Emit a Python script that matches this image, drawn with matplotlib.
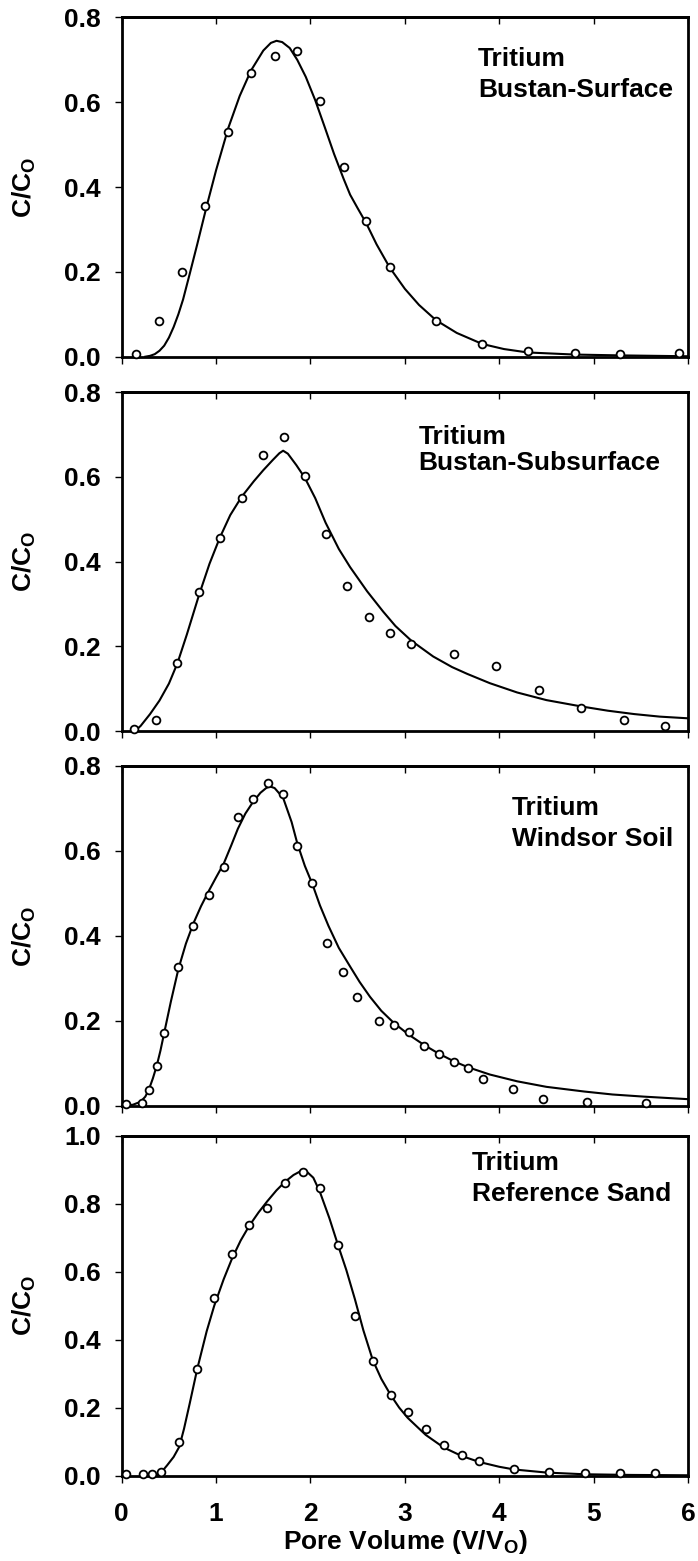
import matplotlib
matplotlib.use('Agg')
import matplotlib.pyplot as plt

plt.rcParams['font.family'] = ['Liberation Sans', 'DejaVu Sans']
plt.rcParams['font.weight'] = 'bold'
plt.rcParams['mathtext.fontset'] = 'custom'
plt.rcParams['mathtext.rm'] = 'Liberation Sans:bold'
plt.rcParams['mathtext.it'] = 'Liberation Sans:bold'
plt.rcParams['mathtext.bf'] = 'Liberation Sans:bold'

# ── Bustan-Surface ──
surf_x = [0.15, 0.40, 0.64, 0.88, 1.13, 1.37, 1.62, 1.86, 2.10, 2.35, 2.59, 2.84, 3.33, 3.82, 4.30, 4.80, 5.28, 5.90]
surf_y = [0.006, 0.085, 0.200, 0.356, 0.531, 0.668, 0.709, 0.720, 0.603, 0.447, 0.320, 0.211, 0.085, 0.030, 0.013, 0.009, 0.006, 0.008]
surf_fit_x = [0.25, 0.30, 0.35, 0.40, 0.45, 0.50, 0.55, 0.60, 0.65, 0.72, 0.80, 0.90, 1.00, 1.13, 1.25, 1.37, 1.50,
              1.58, 1.64, 1.70, 1.78, 1.86, 1.95, 2.05, 2.15, 2.25, 2.35, 2.42, 2.50, 2.59, 2.70, 2.84, 3.00, 3.15,
              3.33, 3.55, 3.82, 4.05, 4.30, 4.80, 5.30, 6.00]
surf_fit_y = [0.000, 0.002, 0.006, 0.014, 0.026, 0.045, 0.070, 0.100, 0.135, 0.195, 0.265, 0.355, 0.440, 0.540, 0.615,
              0.675, 0.722, 0.740, 0.745, 0.742, 0.728, 0.700, 0.660, 0.605, 0.542, 0.478, 0.420, 0.382, 0.350, 0.315,
              0.265, 0.210, 0.160, 0.122, 0.086, 0.056, 0.030, 0.018, 0.010, 0.005, 0.003, 0.001]

# ── Bustan-Subsurface ──
sub_x = [0.13, 0.36, 0.59, 0.82, 1.04, 1.27, 1.50, 1.72, 1.94, 2.16, 2.39, 2.62, 2.84, 3.07, 3.52, 3.97, 4.42, 4.87, 5.32, 5.76]
sub_y = [0.004, 0.026, 0.161, 0.329, 0.457, 0.551, 0.653, 0.695, 0.603, 0.465, 0.343, 0.270, 0.231, 0.205, 0.182, 0.153, 0.098, 0.055, 0.026, 0.012]
sub_fit_x = [0.14, 0.20, 0.30, 0.40, 0.50, 0.59, 0.69, 0.82, 0.93, 1.04, 1.15, 1.27, 1.40, 1.50, 1.60, 1.67, 1.71,
             1.76, 1.85, 1.94, 2.05, 2.16, 2.30, 2.42, 2.60, 2.77, 2.90, 3.07, 3.30, 3.50, 3.66, 3.90, 4.19, 4.50,
             4.87, 5.15, 5.43, 5.70, 6.00]
sub_fit_y = [0.000, 0.012, 0.040, 0.072, 0.112, 0.160, 0.228, 0.322, 0.395, 0.457, 0.510, 0.553, 0.590, 0.616, 0.640,
             0.656, 0.662, 0.655, 0.628, 0.598, 0.550, 0.492, 0.430, 0.387, 0.330, 0.282, 0.248, 0.213, 0.176, 0.151,
             0.135, 0.113, 0.091, 0.073, 0.058, 0.048, 0.040, 0.034, 0.030]

# ── Windsor Soil ──
wind_x = [0.05, 0.21, 0.29, 0.37, 0.45, 0.60, 0.76, 0.92, 1.08, 1.23, 1.39, 1.55, 1.71, 1.86, 2.02, 2.18, 2.34, 2.49,
          2.73, 2.88, 3.04, 3.20, 3.36, 3.52, 3.67, 3.83, 4.15, 4.46, 4.93, 5.56]
wind_y = [0.004, 0.008, 0.037, 0.094, 0.172, 0.327, 0.424, 0.497, 0.562, 0.679, 0.722, 0.759, 0.734, 0.612, 0.525,
          0.384, 0.315, 0.257, 0.201, 0.190, 0.175, 0.140, 0.122, 0.103, 0.089, 0.063, 0.040, 0.017, 0.010, 0.007]
wind_fit_x = [0.03, 0.12, 0.20, 0.25, 0.29, 0.33, 0.37, 0.41, 0.45, 0.52, 0.60, 0.68, 0.76, 0.84, 0.92, 1.00, 1.08,
              1.16, 1.23, 1.31, 1.39, 1.47, 1.53, 1.57, 1.62, 1.71, 1.80, 1.86, 1.94, 2.02, 2.10, 2.19, 2.30, 2.42,
              2.52, 2.63, 2.75, 2.88, 3.04, 3.20, 3.36, 3.52, 3.67, 3.90, 4.19, 4.50, 4.90, 5.20, 5.53, 6.00]
wind_fit_y = [0.000, 0.003, 0.010, 0.022, 0.040, 0.065, 0.094, 0.130, 0.172, 0.245, 0.322, 0.382, 0.430, 0.470, 0.505,
              0.538, 0.570, 0.613, 0.652, 0.688, 0.715, 0.737, 0.748, 0.752, 0.748, 0.725, 0.668, 0.618, 0.565, 0.522,
              0.472, 0.424, 0.372, 0.328, 0.292, 0.257, 0.224, 0.196, 0.168, 0.144, 0.123, 0.105, 0.091, 0.074, 0.058,
              0.045, 0.034, 0.027, 0.022, 0.016]

# ── Reference Sand ──
sand_x = [0.05, 0.23, 0.32, 0.42, 0.61, 0.80, 0.98, 1.17, 1.35, 1.54, 1.73, 1.92, 2.10, 2.29, 2.47, 2.66, 2.85, 3.03,
          3.22, 3.41, 3.60, 3.79, 4.16, 4.53, 4.91, 5.28, 5.65]
sand_y = [0.005, 0.005, 0.005, 0.010, 0.100, 0.314, 0.522, 0.653, 0.738, 0.788, 0.861, 0.894, 0.847, 0.679, 0.471,
          0.338, 0.237, 0.188, 0.137, 0.091, 0.061, 0.042, 0.019, 0.010, 0.009, 0.007, 0.007]
sand_fit_x = [0.37, 0.42, 0.48, 0.55, 0.61, 0.66, 0.72, 0.80, 0.90, 0.98, 1.08, 1.17, 1.26, 1.35, 1.45, 1.54, 1.64,
              1.73, 1.82, 1.90, 1.96, 2.03, 2.10, 2.20, 2.29, 2.38, 2.47, 2.56, 2.66, 2.75, 2.85, 2.94, 3.03, 3.22,
              3.41, 3.60, 3.79, 4.00, 4.16, 4.50, 4.90, 5.40, 6.00]
sand_fit_y = [0.000, 0.010, 0.030, 0.055, 0.085, 0.138, 0.212, 0.314, 0.425, 0.500, 0.578, 0.640, 0.692, 0.735, 0.775,
              0.807, 0.840, 0.865, 0.885, 0.897, 0.895, 0.877, 0.835, 0.758, 0.680, 0.605, 0.520, 0.428, 0.340, 0.285,
              0.237, 0.200, 0.170, 0.120, 0.083, 0.058, 0.040, 0.026, 0.018, 0.009, 0.004, 0.002, 0.001]

names = ['Bustan-Surface', 'Bustan-Subsurface', 'Windsor Soil', 'Reference Sand']
x_ticks = [0, 1, 2, 3, 4, 5, 6]

panels = [
    (surf_x, surf_y, surf_fit_x, surf_fit_y, 0.8),
    (sub_x, sub_y, sub_fit_x, sub_fit_y, 0.8),
    (wind_x, wind_y, wind_fit_x, wind_fit_y, 0.8),
    (sand_x, sand_y, sand_fit_x, sand_fit_y, 1.0),
]

# axes boxes (left, bottom, width, height) and label spots
boxes = [(0.1744, 0.7715, 0.8113, 0.2173),
         (0.1744, 0.5317, 0.8113, 0.2170),
         (0.1744, 0.2915, 0.8113, 0.2178),
         (0.1744, 0.0547, 0.8113, 0.2176)]
label_pos = [(0.629, 0.857, 0.767), (0.524, 0.847, 0.770),
             (0.689, 0.856, 0.765), (0.618, 0.900, 0.807)]

FS = 19
fig = plt.figure(figsize=(6.98, 15.61), dpi=100)

for i, (ox, oy, fx, fy, ytop) in enumerate(panels):
    ax = fig.add_axes(boxes[i])
    ax.plot(fx, fy, color='black', linewidth=1.5, clip_on=False, zorder=3)
    ax.plot(ox, oy, linestyle='none', marker='o', markersize=5.6, markerfacecolor='white',
            markeredgecolor='black', markeredgewidth=1.3, clip_on=False, zorder=4)
    ax.set_xlim(0, 6)
    ax.set_ylim(0, ytop)
    yt = [round(0.2 * k, 1) for k in range(int(round(ytop / 0.2)) + 1)]
    ax.set_yticks(yt)
    ax.set_yticklabels([f'{v:.1f}' for v in yt])
    ax.set_xticks(x_ticks)
    for s in ax.spines.values():
        s.set_linewidth(2.0)
    ax.tick_params(axis='y', direction='out', length=5, width=1.0, pad=10, labelsize=FS, right=False)
    ax.tick_params(axis='x', direction='out', length=5, width=1.0, pad=14, labelsize=FS, top=False)
    top = ax.secondary_xaxis('top')
    top.set_xticks(x_ticks)
    top.tick_params(direction='in', length=5, width=1.0, labeltop=False)
    top.spines['top'].set_linewidth(2.0)
    if i < 3:
        ax.set_xticklabels([])
    else:
        ax.set_xticklabels([str(t) for t in x_ticks])
        ax.text(0.5, -0.155, 'Pore Volume (V/V$_\\mathrm{O}$)', transform=ax.transAxes,
                ha='center', va='top', fontsize=FS, fontweight='bold')
    ax.text(-0.171, 0.5, 'C/C$_\\mathrm{O}$', transform=ax.transAxes, rotation=90,
            ha='center', va='center', fontsize=FS, fontweight='bold')
    tx, ty1, ty2 = label_pos[i]
    ax.text(tx, ty1, 'Tritium', transform=ax.transAxes, ha='left', va='baseline',
            fontsize=FS, fontweight='bold')
    ax.text(tx, ty2, names[i], transform=ax.transAxes, ha='left', va='baseline',
            fontsize=FS, fontweight='bold')

plt.savefig('out.png', dpi=100, facecolor='white')
